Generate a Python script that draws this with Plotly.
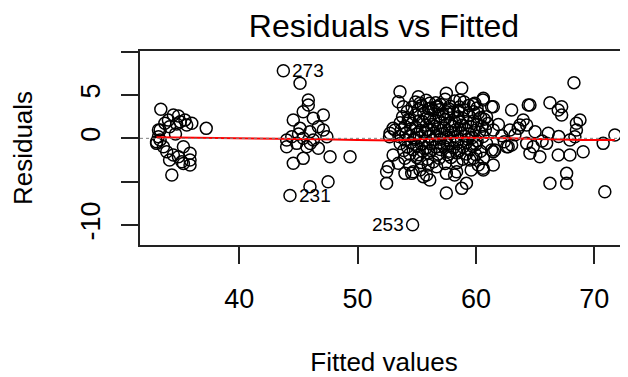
import numpy as np
import plotly.graph_objects as go

# ---------------- data ----------------
fit_low = [33.36, 34.42, 34.85, 34.0, 35.4, 35.98, 37.2, 33.7, 34.1, 34.7, 35.55, 33.3, 33.16, 33.0,
           33.58, 33.3, 35.27, 33.86, 34.42, 34.85, 34.1, 35.13, 35.83, 35.83, 34.29, 35.83, 33.0,
           33.16, 35.27, 34.6, 35.0]
res_low = [3.35, 2.69, 2.57, 2.1, 2.1, 1.73, 1.15, 1.73, 1.34, 1.65, 1.53, 0.96, 0.18, -0.58,
           -0.97, -0.2, -0.97, -1.55, -1.93, -2.12, -2.5, -2.7, -2.5, -1.73, -4.23, -3.08, -0.39,
           0.96, -2.9, 0.5, 1.9]

fit_mid = [43.72, 45.13, 45.83, 45.83, 44.56, 46.25, 47.1, 45.4, 45.13, 45.97, 47.1, 46.68, 44.43,
           44.0, 45.7, 46.68, 45.4, 47.4, 47.67, 49.36, 44.56, 45.4, 47.5, 45.97, 44.28, 44.0,
           44.85, 46.25, 45.0, 46.0]
res_mid = [7.8, 6.35, 4.42, 3.84, 2.11, 2.31, 2.69, 3.07, 1.15, 0.76, 0.96, 1.34, 0.18, -0.97,
           -0.97, -1.15, 0.0, 0.18, -2.12, -2.12, -2.88, -2.31, -5.0, -5.58, -6.6, -0.2, -0.58,
           -0.2, 0.5, -0.6]

fit_edge = [53.58, 53.44, 53.86, 55.13, 55.27, 56.1, 56.68, 57.5, 58.8, 58.65, 60.6, 61.33, 59.8,
            60.9, 57.5, 53.16, 52.74, 53.0, 52.6, 52.45, 54.0, 54.57, 55.55, 56.1, 57.5, 58.8,
            59.2, 57.5, 58.37, 60.6, 61.33, 53.44, 54.4, 55.27, 56.68, 59.5, 54.4, 59.9, 56.8,
            60.63, 60.63, 60.63, 58.2, 59.6, 60.2, 55.97, 53.0, 52.7, 52.45, 55.83, 54.7, 54.65]
res_edge = [5.38, 4.22, 3.65, 4.8, 4.04, 4.04, 3.65, 5.19, 5.77, 4.42, 4.42, 3.65, 3.07,
            2.5, 3.07, 0.96, 0.58, -1.93, -3.27, -5.19, -4.04, -4.04, -4.42, -4.8, -6.3, -5.77,
            -5.19, -4.04, -3.85, -3.46, -1.35, -2.88, -3.08, -3.65, -3.27, -2.5, 2.11, 4.04, 3.65,
            4.61, -2.31, -3.65, -4.23, -3.65, -3.08, -3.08, 1.15, 0.18, -3.85, -4.23, -3.85, -9.96]

fit_core = [54.2, 55.6, 56.4, 57.2, 58.1, 59.0, 60.2,
            53.8, 54.9, 55.9, 56.9, 57.7, 58.5, 59.4, 60.4,
            54.3, 55.2, 56.1, 56.6, 57.4, 58.2, 58.9, 59.8, 60.7,
            53.6, 54.6, 55.5, 56.3, 57.0, 57.8, 58.6, 59.3, 60.1, 61.0,
            54.0, 54.9, 55.8, 56.5, 57.3, 58.0, 58.8, 59.6, 60.5,
            53.7, 54.5, 55.3, 56.0, 56.8, 57.6, 58.3, 59.1, 59.9, 60.8,
            54.1, 55.0, 55.7, 56.4, 57.1, 57.9, 58.7, 59.4, 60.3,
            53.5, 54.4, 55.2, 56.0, 56.7, 57.5, 58.2, 59.0, 59.7, 60.6,
            54.0, 54.8, 55.6, 56.3, 57.0, 57.8, 58.5, 59.3, 60.1,
            53.6, 54.5, 55.4, 56.1, 56.9, 57.6, 58.4, 59.2, 60.0, 60.9,
            54.2, 55.0, 55.8, 56.6, 57.3, 58.1, 58.9, 59.7,
            53.9, 54.7, 55.5, 56.2, 57.0, 57.8, 58.6, 59.5, 60.4,
            54.4, 55.2, 56.0, 56.8, 57.6, 58.4, 59.2, 60.0,
            54.0, 55.0, 55.9, 56.9, 57.9, 58.9, 59.8,
            55.4, 56.4, 57.4, 58.4,
            54.6, 55.4, 56.2, 57.0, 57.8, 58.6, 59.4, 60.1,
            54.9, 55.8, 56.6, 57.4, 58.2, 59.0, 59.8,
            55.1, 56.0, 56.9, 57.7, 58.5]
res_core = [3.1, 2.9, 3.2, 2.8, 3.0, 3.3, 2.9,
            2.5, 2.7, 2.4, 2.6, 2.8, 2.5, 2.7, 2.4,
            2.2, 2.0, 2.3, 2.1, 2.2, 1.9, 2.3, 2.0, 2.2,
            1.8, 1.7, 1.9, 1.6, 1.8, 1.7, 1.9, 1.8, 1.6, 1.7,
            1.4, 1.3, 1.5, 1.4, 1.2, 1.4, 1.5, 1.3, 1.4,
            1.0, 1.1, 0.9, 1.0, 1.1, 0.9, 1.0, 1.1, 0.9, 1.0,
            0.6, 0.5, 0.7, 0.6, 0.5, 0.7, 0.6, 0.5, 0.7,
            0.2, 0.3, 0.1, 0.2, 0.3, 0.1, 0.2, 0.3, 0.1, 0.2,
            -0.2, -0.1, -0.3, -0.2, -0.1, -0.3, -0.2, -0.1, -0.3,
            -0.6, -0.5, -0.7, -0.6, -0.5, -0.7, -0.6, -0.5, -0.7, -0.6,
            -1.0, -0.9, -1.1, -1.0, -0.9, -1.1, -1.0, -0.9,
            -1.4, -1.3, -1.5, -1.4, -1.3, -1.5, -1.4, -1.3, -1.5,
            -1.8, -1.9, -1.7, -1.8, -1.9, -1.7, -1.8, -1.9,
            -2.3, -2.2, -2.4, -2.3, -2.2, -2.4, -2.3,
            -2.8, -2.7, -2.9, -2.8,
            3.6, 3.8, 3.5, 3.9, 3.7, 3.6, 3.8, 3.5,
            4.2, 4.4, 4.1, 4.5, 4.3, 4.2, 3.9,
            3.3, 3.4, 3.3, 3.4, 3.2]

fit_high = [68.29, 66.26, 67.25, 67.25, 66.96, 64.57, 63.02, 61.47, 68.8, 68.5, 64.0, 64.29, 63.58,
            62.88, 65.0, 66.12, 71.75, 70.76, 67.95, 68.37, 65.98, 64.29, 62.73, 61.6, 64.57,
            65.41, 66.96, 67.95, 69.07, 61.47, 67.67, 67.67, 66.26, 70.9, 68.5, 61.47, 63.72,
            64.43, 62.6, 63.02, 61.47, 64.85, 62.2, 63.3, 65.6, 62.4, 67.0, 61.9]
res_high = [6.42, 4.11, 3.65, 2.69, 3.27, 3.84, 3.27, 3.65, 2.11, 0.96, 2.11, 1.53, 1.15,
            0.96, 0.76, 0.58, 0.38, -0.58, -0.2, 0.18, -0.58, -0.58, -0.97, -1.35, -1.73,
            -2.12, -1.93, -1.93, -1.55, -3.08, -4.04, -5.19, -5.19, -6.16, 1.73, 0.96, 1.53,
            3.84, -0.97, -0.77, -1.55, -0.97, 0.3, 0.4, -0.3, -0.4, 0.2, 1.6]

# lowess smooth (red line)
smooth_x = [33.0, 36.0, 40.0, 44.0, 47.0, 50.0, 53.0, 55.0, 57.0, 59.0, 61.0, 63.0, 65.0, 67.0, 69.0, 71.75]
smooth_y = [0.12, 0.08, 0.02, -0.05, -0.12, -0.2, -0.25, -0.1, 0.02, 0.08, 0.05, -0.02, -0.08, -0.14, -0.18, -0.2]

# labels of the three largest |residuals|, in decreasing order
outlier_labels = ["253", "273", "231"]

x_ticks = [40, 50, 60, 70]
y_ticks = [-10, -5, 0, 5, 10]
y_ticktext = ["-10", "", "0", "5", ""]

# ---------------- figure ----------------
fitted = np.array(fit_low + fit_mid + fit_edge + fit_core + fit_high)
resid = np.array(res_low + res_mid + res_edge + res_core + res_high)

FONT = "Liberation Sans, Arial, Helvetica, sans-serif"
fig = go.Figure()

fig.add_trace(go.Scatter(
    x=fitted, y=resid, mode="markers",
    marker=dict(symbol="circle-open", size=12, color="black", line=dict(width=1.5)),
    hoverinfo="skip", showlegend=False))

fig.add_shape(type="line", xref="paper", x0=0, x1=1, yref="y", y0=0, y1=0,
              line=dict(color="gray", width=1, dash="dot"))

fig.add_trace(go.Scatter(
    x=smooth_x, y=smooth_y, mode="lines",
    line=dict(color="red", width=2), hoverinfo="skip", showlegend=False))

order = np.argsort(-np.abs(resid))[:len(outlier_labels)]
xmid = (fitted.min() + fitted.max()) / 2
for lab, i in zip(outlier_labels, order):
    right = fitted[i] <= xmid
    fig.add_annotation(x=fitted[i], y=resid[i], text=lab, showarrow=False,
                       xanchor="left" if right else "right", yanchor="middle",
                       xshift=7 if right else -7,
                       font=dict(family=FONT, size=19, color="black"))

# the page body has an 8px margin: figure is sized so it ends at the window edge
W, H = 620, 369
fig.update_layout(
    width=W, height=H,
    margin=dict(l=132, r=0, t=43, b=132),
    paper_bgcolor="white", plot_bgcolor="white",
    font=dict(family=FONT, color="black"),
    title=dict(text="Residuals vs Fitted", x=0.5, xref="paper", xanchor="center",
               y=1 - 18 / H, yref="container", yanchor="middle",
               font=dict(family=FONT, size=32, color="black")),
)
fig.update_xaxes(
    range=[31.6, 72.86], tickvals=x_ticks, ticks="outside", ticklen=17, tickwidth=1.8,
    tickcolor="#222", showline=True, linecolor="#222", linewidth=2, mirror=True,
    showgrid=False, zeroline=False, tickfont=dict(size=27), ticklabelstandoff=12,
    title=dict(text="Fitted values", font=dict(size=26), standoff=45))
fig.update_yaxes(
    range=[-12.3, 10.07], tickvals=y_ticks, ticktext=y_ticktext, tickangle=-90,
    ticks="outside", ticklen=17, tickwidth=1.8, tickcolor="#222",
    showline=True, linecolor="#222", linewidth=2, mirror=False,
    showgrid=False, zeroline=False, tickfont=dict(size=27), ticklabelstandoff=10,
    title=dict(text="Residuals", font=dict(size=26), standoff=39))

fig.write_html("out.html")
